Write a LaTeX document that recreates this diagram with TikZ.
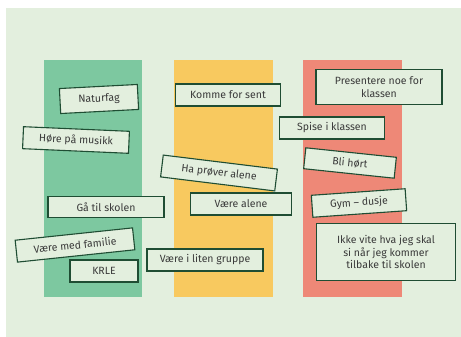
\documentclass[tikz,border=0pt]{standalone}
\usepackage{fontspec}
\setmainfont{Fira Sans}
\begin{document}
\definecolor{bgpale}{HTML}{E3EFDE}
\definecolor{colgreen}{HTML}{7DC8A0}
\definecolor{colyellow}{HTML}{F8C95F}
\definecolor{colred}{HTML}{EE8877}
\definecolor{edgegreen}{HTML}{1F4D33}
\definecolor{txtgray}{HTML}{3A3A3A}
\begin{tikzpicture}[x=1pt,y=-1pt,
  column/.style={fill=#1, draw=none},
  card/.style={draw=edgegreen, line width=1.1pt, fill=bgpale, text=txtgray,
    font=\fontsize{10.5}{12.5}\selectfont, inner sep=0pt, align=center,
    minimum height=22pt}]
  \useasboundingbox (0,0) rectangle (461,337);
  % background panel
  \fill[bgpale] (6,8) rectangle (461,337);
  % three columns
  \fill[column=colgreen]  (44,60) rectangle (142,297);
  \fill[column=colyellow] (174,60) rectangle (273,297);
  \fill[column=colred]    (303,60) rectangle (402,297);
  % cards in the green column
  \node[card, minimum width=78pt, minimum height=25pt, rotate=3] (naturfag) at (99,99) {Naturfag};
  \node[card, minimum width=106pt, rotate=-2.5] (musikk) at (76,140) {Høre på musikk};
  \node[card, minimum width=116pt, minimum height=21pt] (skolen) at (106,207) {Gå til skolen};
  \node[card, minimum width=118pt, rotate=6] (familie) at (75,245) {Være med familie};
  \node[card, minimum width=68pt] (krle) at (104,271) {KRLE};
  % cards in the yellow column
  \node[card, minimum width=105pt] (sent) at (228,95) {Komme for sent};
  \node[card, minimum width=115pt, rotate=-7] (proever) at (219,173) {Ha prøver alene};
  \node[card, minimum width=101pt] (alene) at (241,204) {Være alene};
  \node[card, minimum width=116pt] (gruppe) at (205,260) {Være i liten gruppe};
  % cards in the red column
  \node[card, minimum width=126pt, minimum height=35pt] (presentere) at (379,87) {Presentere noe for\\klassen};
  \node[card, minimum width=105pt] (spise) at (332,128) {Spise i klassen};
  \node[card, minimum width=91pt, minimum height=21pt, rotate=-6] (hoert) at (350,163) {Bli hørt};
  \node[card, minimum width=94pt, rotate=4] (gym) at (359,203) {Gym – dusje};
  \node[card, minimum width=139pt, minimum height=57pt] (ikkevite) at (386,252) {Ikke vite hva jeg skal\\si når jeg kommer\\tilbake til skolen};
\end{tikzpicture}
\end{document}
